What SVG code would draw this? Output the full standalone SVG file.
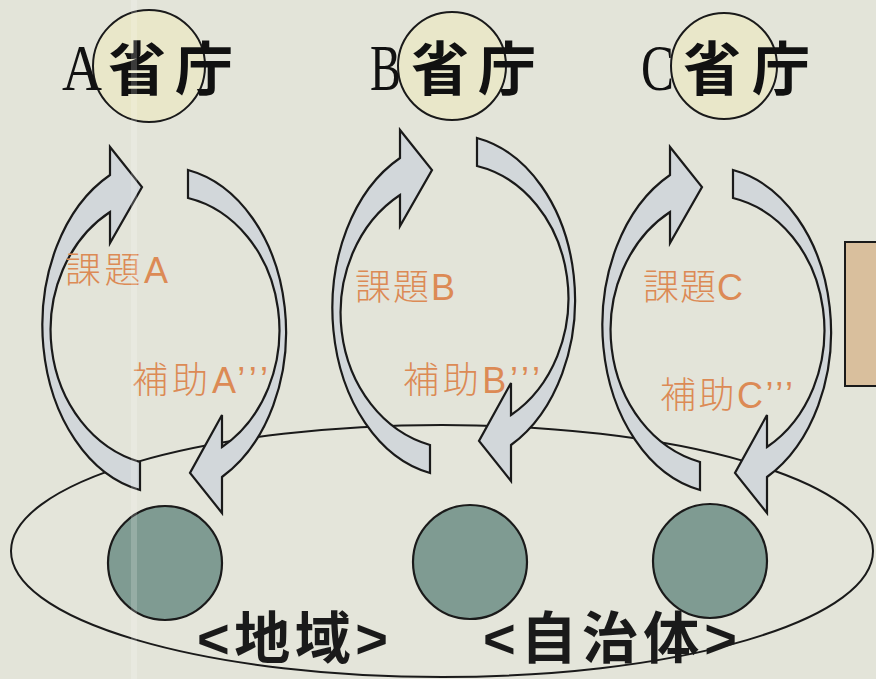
<svg xmlns="http://www.w3.org/2000/svg" xmlns:xlink="http://www.w3.org/1999/xlink" width="876" height="679" viewBox="0 0 876 679">
  <defs>
    <style>
      .arrow { fill: #d2d7da; stroke: #1a1a1a; stroke-width: 2.2; stroke-linejoin: miter; }
      .ministry { fill: #e9e7c9; stroke: #1a1a1a; stroke-width: 2; }
      .local { fill: #7f9b92; stroke: #1a1a1a; stroke-width: 2.2; }
      .region { fill: #e4e5da; stroke: #1a1a1a; stroke-width: 2; }
      .title { font-family: "Liberation Serif", "Noto Sans CJK JP", serif; font-size: 58px; fill: #111; }
      .title .lat { font-size: 66px; }
      .title .cjk { font-weight: 700; }
      .label { font-family: "Liberation Sans", "Noto Sans CJK JP", sans-serif; font-size: 36px; fill: #dc8a55; font-weight: 300; }
      .bottom { font-family: "Liberation Sans", "Noto Sans CJK JP", sans-serif; font-size: 56px; font-weight: 700; fill: #1a1a1a; }
    </style>
    <path id="arrowUp" class="arrow" d="M 140 490 A 122 168 0 0 1 110 175 L 110 147 L 142 187 L 110 243 L 110 212 A 118 136 0 0 0 140 462 Z"/>
    <path id="arrowDown" class="arrow" d="M 188 170 A 122 165 0 0 1 222 477 L 222 513 L 190 473 L 222 415 L 222 447 A 115 135 0 0 0 188 198 Z"/>
  </defs>

  <rect x="0" y="0" width="876" height="679" fill="#e3e4d9"/>

  <g id="region">
    <ellipse class="region" cx="442" cy="551" rx="431" ry="126"/>
  </g>

  <g id="local-A"><circle class="local" cx="165" cy="563" r="57"/></g>
  <g id="local-B"><circle class="local" cx="470" cy="562" r="57"/></g>
  <g id="local-C"><circle class="local" cx="710" cy="561" r="57"/></g>

  <g id="connectors">
    <use xlink:href="#arrowUp"/>
    <use xlink:href="#arrowDown"/>
    <use xlink:href="#arrowUp" transform="translate(290,-17)"/>
    <use xlink:href="#arrowDown" transform="translate(289,-32)"/>
    <use xlink:href="#arrowUp" transform="translate(560,0)"/>
    <use xlink:href="#arrowDown" transform="translate(545,0)"/>
  </g>

  <g id="ministry-A">
    <circle class="ministry" cx="149" cy="66" r="56"/>
    <text class="title" y="90"><tspan class="lat" x="62" textLength="40" lengthAdjust="spacingAndGlyphs">A</tspan><tspan class="cjk" x="108" textLength="125">省庁</tspan></text>
  </g>
  <g id="ministry-B">
    <circle class="ministry" cx="452" cy="66" r="54"/>
    <text class="title" y="90"><tspan class="lat" x="370" textLength="31" lengthAdjust="spacingAndGlyphs">B</tspan><tspan class="cjk" x="411" textLength="125">省庁</tspan></text>
  </g>
  <g id="ministry-C">
    <circle class="ministry" cx="724" cy="66" r="53"/>
    <text class="title" y="90"><tspan class="lat" x="641" textLength="33" lengthAdjust="spacingAndGlyphs">C</tspan><tspan class="cjk" x="683" textLength="127">省庁</tspan></text>
  </g>

  <g id="labels">
    <text class="label" x="65" y="283" textLength="103">課題A</text>
    <text class="label" x="132" y="393" textLength="136">補助A’’’</text>
    <text class="label" x="355" y="300" textLength="100">課題B</text>
    <text class="label" x="403" y="393" textLength="137">補助B’’’</text>
    <text class="label" x="643" y="300" textLength="100">課題C</text>
    <text class="label" x="660" y="408" textLength="133">補助C’’’</text>
  </g>

  <g id="region-labels">
    <text class="bottom" x="197" y="658" textLength="191">&lt;地域&gt;</text>
    <text class="bottom" x="483" y="658" textLength="254">&lt;自治体&gt;</text>
  </g>

  <g id="side-box">
    <rect x="845" y="242" width="40" height="144" fill="#d9bf9d" stroke="#1a1a1a" stroke-width="2"/>
  </g>

  <rect x="131" y="0" width="6" height="679" fill="#ffffff" opacity="0.18"/>
</svg>
